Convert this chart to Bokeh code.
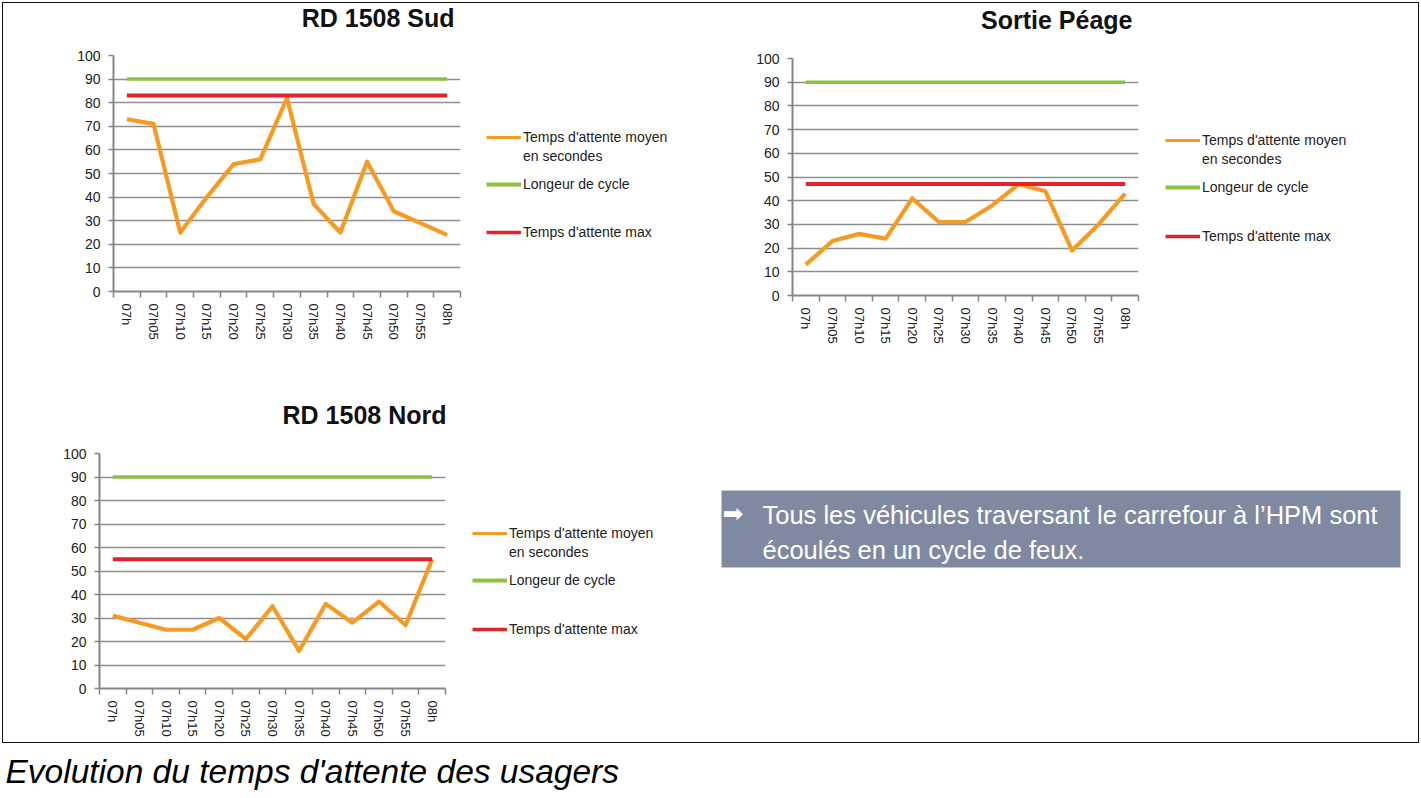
from bokeh.plotting import figure
from bokeh.models import (Range1d, FixedTicker, SingleIntervalTicker, Legend,
                          LegendItem, Label)
from bokeh.layouts import row, column
from bokeh.embed import file_html
from bokeh.resources import INLINE

# ---------------------------------------------------------------- data
times = ["07h", "07h05", "07h10", "07h15", "07h20", "07h25", "07h30",
         "07h35", "07h40", "07h45", "07h50", "07h55", "08h"]

sud_attente = [73, 71, 25, 40, 54, 56, 82, 37, 25, 55, 34, 29, 24]
sud_cycle = [90, 90, 90, 90, 90, 90, 90, 90, 90, 90, 90, 90, 90]
sud_max = [83, 83, 83, 83, 83, 83, 83, 83, 83, 83, 83, 83, 83]

peage_attente = [13, 23, 26, 24, 41, 31, 31, 38, 47, 44, 19, 30, 43]
peage_cycle = [90, 90, 90, 90, 90, 90, 90, 90, 90, 90, 90, 90, 90]
peage_max = [47, 47, 47, 47, 47, 47, 47, 47, 47, 47, 47, 47, 47]

nord_attente = [31, 28, 25, 25, 30, 21, 35, 16, 36, 28, 37, 27, 55]
nord_cycle = [90, 90, 90, 90, 90, 90, 90, 90, 90, 90, 90, 90, 90]
nord_max = [55, 55, 55, 55, 55, 55, 55, 55, 55, 55, 55, 55, 55]

titles = ["RD 1508 Sud", "Sortie Péage", "RD 1508 Nord"]

label_moyen = ["Temps d'attente moyen", "en secondes"]
label_cycle = "Longeur de cycle"
label_max = "Temps d'attente max"

note_lines = ["Tous les véhicules traversant le carrefour à l\u2019HPM sont",
              "écoulés en un cycle de feux."]
caption_text = "Evolution du temps d'attente des usagers"

# ---------------------------------------------------------------- style
ORANGE = "#F59B23"
GREEN = "#8DC13F"
RED = "#E2232A"
AXIS_GREY = "#858585"
GRID_GREY = "#8e8e8e"
TEXT = "#222222"
BOX_FILL = "#7f89a1"
FONT = "Liberation Sans"
NAN = float("nan")

xs = list(range(len(times)))


def bare(p):
    p.border_fill_color = None
    p.background_fill_color = None
    p.outline_line_color = None
    return p


def blank(width, height):
    """A figure whose whole area is the frame, in pixel-sized units."""
    p = figure(width=width, height=height, x_axis_type=None, y_axis_type=None,
               x_range=Range1d(0, width), y_range=Range1d(0, height),
               min_border=0, frame_align=False,
               output_backend="svg", toolbar_location=None)
    return bare(p)


def title_strip(text, width, height, right, middle):
    t = blank(width, height)
    t.add_layout(Label(x=right, y=middle, text=text, text_align="right",
                       text_baseline="middle", text_font=FONT,
                       text_font_size="25px", text_font_style="bold",
                       text_color="#111111"))
    return t


def make_chart(attente, cycle, maximum, width, height,
               left, top, frame_w, frame_h):
    p = figure(width=width, height=height,
               x_range=Range1d(-0.5, len(times) - 0.5),
               y_range=Range1d(0, 100),
               output_backend="svg", toolbar_location=None,
               min_border_left=left, min_border_top=top,
               min_border_right=width - left - frame_w,
               min_border_bottom=height - top - frame_h,
               frame_align=False)
    bare(p)

    p.line(xs, attente, line_color=ORANGE, line_width=4.2, line_join="round")
    p.line(xs, cycle, line_color=GREEN, line_width=3.5)
    p.line(xs, maximum, line_color=RED, line_width=4)

    # category boundaries carry the tick marks, labels sit at centres
    bounds = [i - 0.5 for i in range(len(times) + 1)]
    p.xaxis.ticker = FixedTicker(ticks=xs, minor_ticks=bounds)
    p.xaxis.major_label_overrides = {i: t for i, t in enumerate(times)}
    p.xaxis.major_label_orientation = "vertical"
    p.xaxis.major_tick_out = 0
    p.xaxis.major_tick_in = 0
    p.xaxis.minor_tick_out = 6
    p.xaxis.minor_tick_in = 0
    p.xaxis.minor_tick_line_color = AXIS_GREY
    p.xaxis.minor_tick_line_width = 1.5
    p.xaxis.major_label_standoff = 6
    p.xaxis.major_label_text_font_size = "13px"

    p.yaxis.ticker = SingleIntervalTicker(interval=10, num_minor_ticks=0)
    p.yaxis.major_tick_out = 5
    p.yaxis.major_tick_in = 0
    p.yaxis.minor_tick_line_color = None
    p.yaxis.major_label_standoff = 8
    p.yaxis.major_label_text_font_size = "14px"

    for ax in (p.xaxis, p.yaxis):
        ax.axis_line_color = AXIS_GREY
        ax.axis_line_width = 2
        ax.major_tick_line_color = AXIS_GREY
        ax.major_tick_line_width = 1.5
        ax.major_label_text_font = FONT
        ax.major_label_text_color = TEXT

    p.xgrid.visible = False
    p.ygrid.grid_line_color = GRID_GREY
    p.ygrid.grid_line_width = 1.3
    return p


def make_legend_panel(width, height, swatch_x, rows):
    """rows: (label, colour, line width, alpha, centre y from panel top)"""
    lp = blank(width, height)
    item_h = 16
    for text, colour, lw, alpha, cy in rows:
        # legend-only renderer: a single empty (NaN) point
        r = lp.line([NAN], [NAN], line_color=colour, line_width=lw,
                    line_alpha=alpha)
        leg = Legend(items=[LegendItem(label=text, renderers=[r])],
                     location=(swatch_x, height - cy - item_h / 2),
                     padding=0, margin=0, spacing=0,
                     border_line_color=None, background_fill_alpha=0,
                     glyph_width=35, glyph_height=14,
                     label_height=item_h, label_standoff=2,
                     label_text_font=FONT, label_text_font_size="14px",
                     label_text_color=TEXT, label_text_baseline="middle")
        lp.add_layout(leg)
    return lp


def legend_rows(y0, y1, y2, y3):
    return [(label_moyen[0], ORANGE, 3, 1, y0),
            (label_moyen[1], ORANGE, 3, 0, y1),
            (label_cycle, GREEN, 4, 1, y2),
            (label_max, RED, 3.5, 1, y3)]


# ---------------------------------------------------------------- charts
sud = column(title_strip(titles[0], 480, 35, 454, 17.5),
             make_chart(sud_attente, sud_cycle, sud_max,
                        480, 345, 113, 20, 347, 236))
leg_sud = make_legend_panel(220, 380, 6, legend_rows(137, 156, 184, 232))

peage = column(title_strip(titles[1], 460, 35, 432, 15.5),
               make_chart(peage_attente, peage_cycle, peage_max,
                          460, 345, 92, 23, 346, 237))
leg_peage = make_legend_panel(261, 380, 5, legend_rows(140, 159, 187, 236))

nord = column(title_strip(titles[2], 465, 50, 446, 15.5),
              make_chart(nord_attente, nord_cycle, nord_max,
                         465, 315, 99, 23, 346, 235))
leg_nord = make_legend_panel(235, 365, 7, legend_rows(153, 172, 200, 249))

# ---------------------------------------------------------------- note box
box = figure(width=721, height=365, x_axis_type=None, y_axis_type=None,
             x_range=Range1d(0, 679), y_range=Range1d(0, 77),
             min_border_left=21, min_border_right=21,
             min_border_top=110, min_border_bottom=178, frame_align=False,
             output_backend="svg", toolbar_location=None)
bare(box)
box.background_fill_color = BOX_FILL
box.add_layout(Label(x=1, y=54, text="\u27a1", text_color="white",
                     text_font="DejaVu Sans", text_font_size="25px",
                     text_baseline="middle"))
box.add_layout(Label(x=41, y=53, text=note_lines[0], text_color="white",
                     text_font=FONT, text_font_size="25.5px",
                     text_baseline="middle"))
box.add_layout(Label(x=41, y=18, text=note_lines[1], text_color="white",
                     text_font=FONT, text_font_size="25.5px",
                     text_baseline="middle"))

# ---------------------------------------------------------------- caption
cap = blank(1421, 53)
cap.add_layout(Label(x=5, y=27, text=caption_text, text_color="#000000",
                     text_font=FONT, text_font_style="italic",
                     text_font_size="33.5px", text_baseline="middle"))

panel = column(row(sud, leg_sud, peage, leg_peage),
               row(nord, leg_nord, box),
               styles={"outline": "1.5px solid #111111",
                       "outline-offset": "-3px"})
page = column(panel, cap)

open("out.html", "w").write(file_html(page, INLINE))
